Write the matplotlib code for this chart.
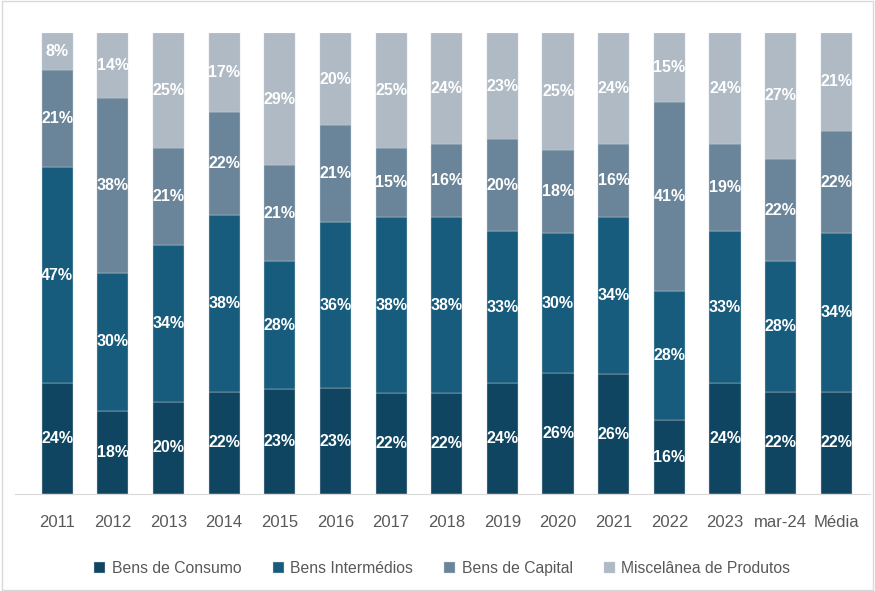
import numpy as np
import matplotlib.pyplot as plt
from matplotlib.patches import Rectangle

anos = ['2011', '2012', '2013', '2014', '2015', '2016', '2017', '2018',
        '2019', '2020', '2021', '2022', '2023', 'mar-24', 'Média']
consumo = [24, 18, 20, 22, 23, 23, 22, 22, 24, 26, 26, 16, 24, 22, 22]
intermedios = [47, 30, 34, 38, 28, 36, 38, 38, 33, 30, 34, 28, 33, 28, 34]
capital = [21, 38, 21, 22, 21, 21, 15, 16, 20, 18, 16, 41, 19, 22, 22]
miscelanea = [8, 14, 25, 17, 29, 20, 25, 24, 23, 25, 24, 15, 24, 27, 21]

series = [('Bens de Consumo', consumo, '#0f4561'),
          ('Bens Intermédios', intermedios, '#175c7c'),
          ('Bens de Capital', capital, '#6a8599'),
          ('Miscelânea de Produtos', miscelanea, '#b0bac5')]

plt.rcParams['font.family'] = ['Liberation Sans', 'DejaVu Sans']

fig = plt.figure(figsize=(8.75, 5.91), dpi=100)
ax = fig.add_axes([0.017, 0.164, 0.977, 0.780])

total = np.array(consumo) + np.array(intermedios) + np.array(capital) + np.array(miscelanea)
x = np.arange(len(anos))
base = np.zeros(len(anos))
for nome, vals, cor in series:
    v = np.array(vals) / total * 100
    ax.bar(x, v, 0.56, bottom=base, color=cor, label=nome,
           edgecolor='#c8d0d8', linewidth=0.3)
    for xi, b, h, lab in zip(x, base, v, vals):
        ax.text(xi, b + h / 2, f'{lab}%', ha='center', va='center',
                color='white', fontsize=11.5, fontweight='bold')
    base += v

ax.set_xlim(-0.76, 14.6)
ax.set_ylim(0, 100)
ax.set_yticks([])
ax.set_xticks(x)
ax.set_xticklabels(anos, fontsize=12, color='#595959')
ax.tick_params(axis='x', length=0, pad=15)
for s in ['top', 'right', 'left']:
    ax.spines[s].set_visible(False)
ax.spines['bottom'].set_color('#d9d9d9')

ax.legend(loc='upper center', bbox_to_anchor=(0.5, -0.115), ncol=4, frameon=False,
          fontsize=11.3, handlelength=0.7, handleheight=0.7, handletextpad=0.4,
          columnspacing=2.0, labelcolor='#595959')

fig.patches.append(Rectangle((0.002, 0.002), 0.996, 0.996, transform=fig.transFigure,
                             fill=False, edgecolor='#d9d9d9', linewidth=1))

plt.savefig('out.png', dpi=100)
